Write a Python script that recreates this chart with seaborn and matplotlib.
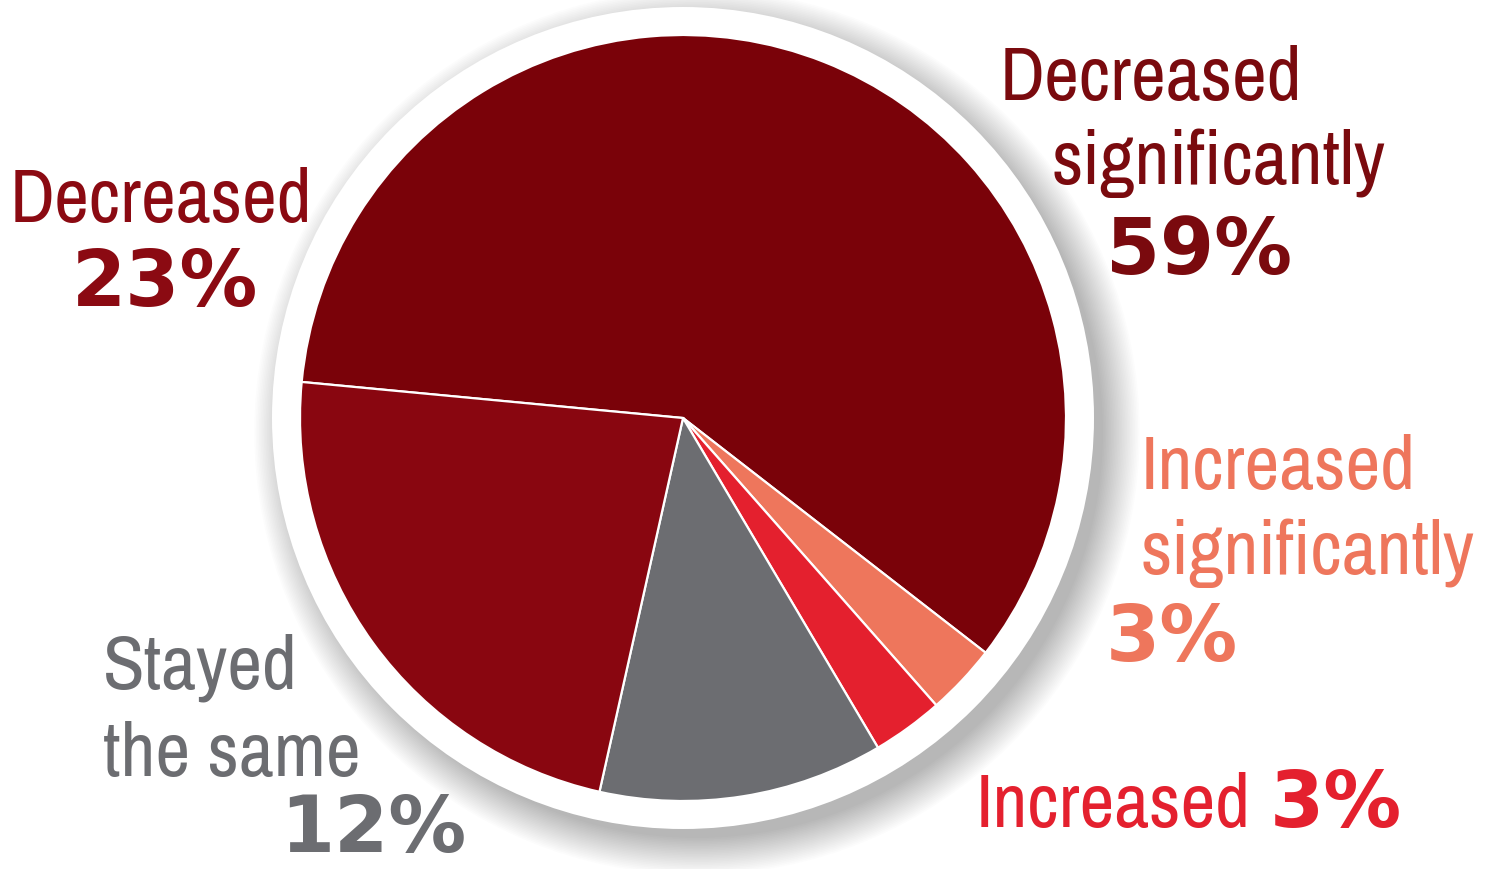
import numpy as np
import matplotlib
matplotlib.use("Agg")
import matplotlib.pyplot as plt
from matplotlib.patches import Circle
from matplotlib import font_manager as fm
import seaborn as sns

sns.set_theme(style="white")
plt.rcParams['font.family'] = ['DejaVu Sans']

# data (clockwise from the left edge of the pie)
categories = ["Decreased significantly", "Increased significantly", "Increased",
              "Stayed the same", "Decreased"]
shares = [59, 3, 3, 12, 23]
colors = ["#7a0209", "#ee765c", "#e4202e", "#6c6d71", "#890610"]

# look for a narrow face for the word labels
narrow = None
for f in sorted(fm.fontManager.ttflist, key=lambda f: f.name):
    if f.style != "normal" or f.weight not in (400, "normal", "regular", "book"):
        continue
    if "Condensed" in f.name or "Narrow" in f.name or f.stretch in ("condensed", "semi-condensed"):
        narrow = f.fname
        break
lab_prop = fm.FontProperties(fname=narrow) if narrow else fm.FontProperties(family="DejaVu Sans")

W, H = 1496, 869
fig = plt.figure(figsize=(W / 100, H / 100), dpi=100)
ax = fig.add_axes([0, 0, 1, 1])

cx, cy, r = 683, H - 418, 383

# soft shadow behind the white ring
for i in range(24):
    ax.add_patch(Circle((cx + 14, cy - 14), 406 + i * 1.6, color="#000000",
                        alpha=0.011, lw=0, zorder=1))
ax.add_patch(Circle((cx, cy), 411, color="white", lw=0, zorder=2))

wedges, _ = ax.pie(shares, colors=colors, startangle=174.6, counterclock=False,
                   center=(cx, cy), radius=r,
                   wedgeprops=dict(edgecolor="white", linewidth=1.6))
for w in wedges:
    w.set_zorder(3)
ax.set_xlim(0, W)
ax.set_ylim(0, H)
ax.set_aspect("equal")
ax.axis("off")

# size the word labels so "Decreased" is about as wide as in the reference
renderer = fig.canvas.get_renderer()
probe = ax.text(0, 0, "Decreased", fontproperties=lab_prop, fontsize=50)
wpx = probe.get_window_extent(renderer).width
probe.remove()
lab_size = 50 * 302 / wpx

pct = dict(fontsize=56, fontweight="bold", family=['DejaVu Sans'])


def txt(x, y, s, c, ha="left", **kw):
    ax.text(x, H - y, s, color=c, ha=ha, va="baseline", zorder=5, **kw)


def word(x, y, s, c, ha="left"):
    ax.text(x, H - y, s, color=c, ha=ha, va="baseline", zorder=5,
            fontproperties=lab_prop, fontsize=lab_size)


# Decreased significantly
c0 = "#7a0a0e"
word(1000, 100, "Decreased", c0)
word(1052, 184, "significantly", c0)
txt(1106, 274, f"{shares[0]}%", c0, **pct)

# Decreased
c4 = "#8b0a12"
word(161, 222, "Decreased", c4, ha="center")
txt(165, 306, f"{shares[4]}%", c4, ha="center", **pct)

# Increased significantly
c1 = "#ee765c"
word(1141, 489, "Increased", c1)
word(1141, 574, "significantly", c1)
txt(1106, 661, f"{shares[1]}%", c1, **pct)

# Increased
c2 = "#e4202e"
word(976, 827, "Increased", c2)
txt(1270, 827, f"{shares[2]}%", c2, **pct)

# Stayed the same
c3 = "#6c6d71"
word(103, 688, "Stayed", c3)
word(103, 776, "the same", c3)
txt(280, 852, f"{shares[3]}%", c3, **pct)

fig.savefig("out.png", dpi=100)
